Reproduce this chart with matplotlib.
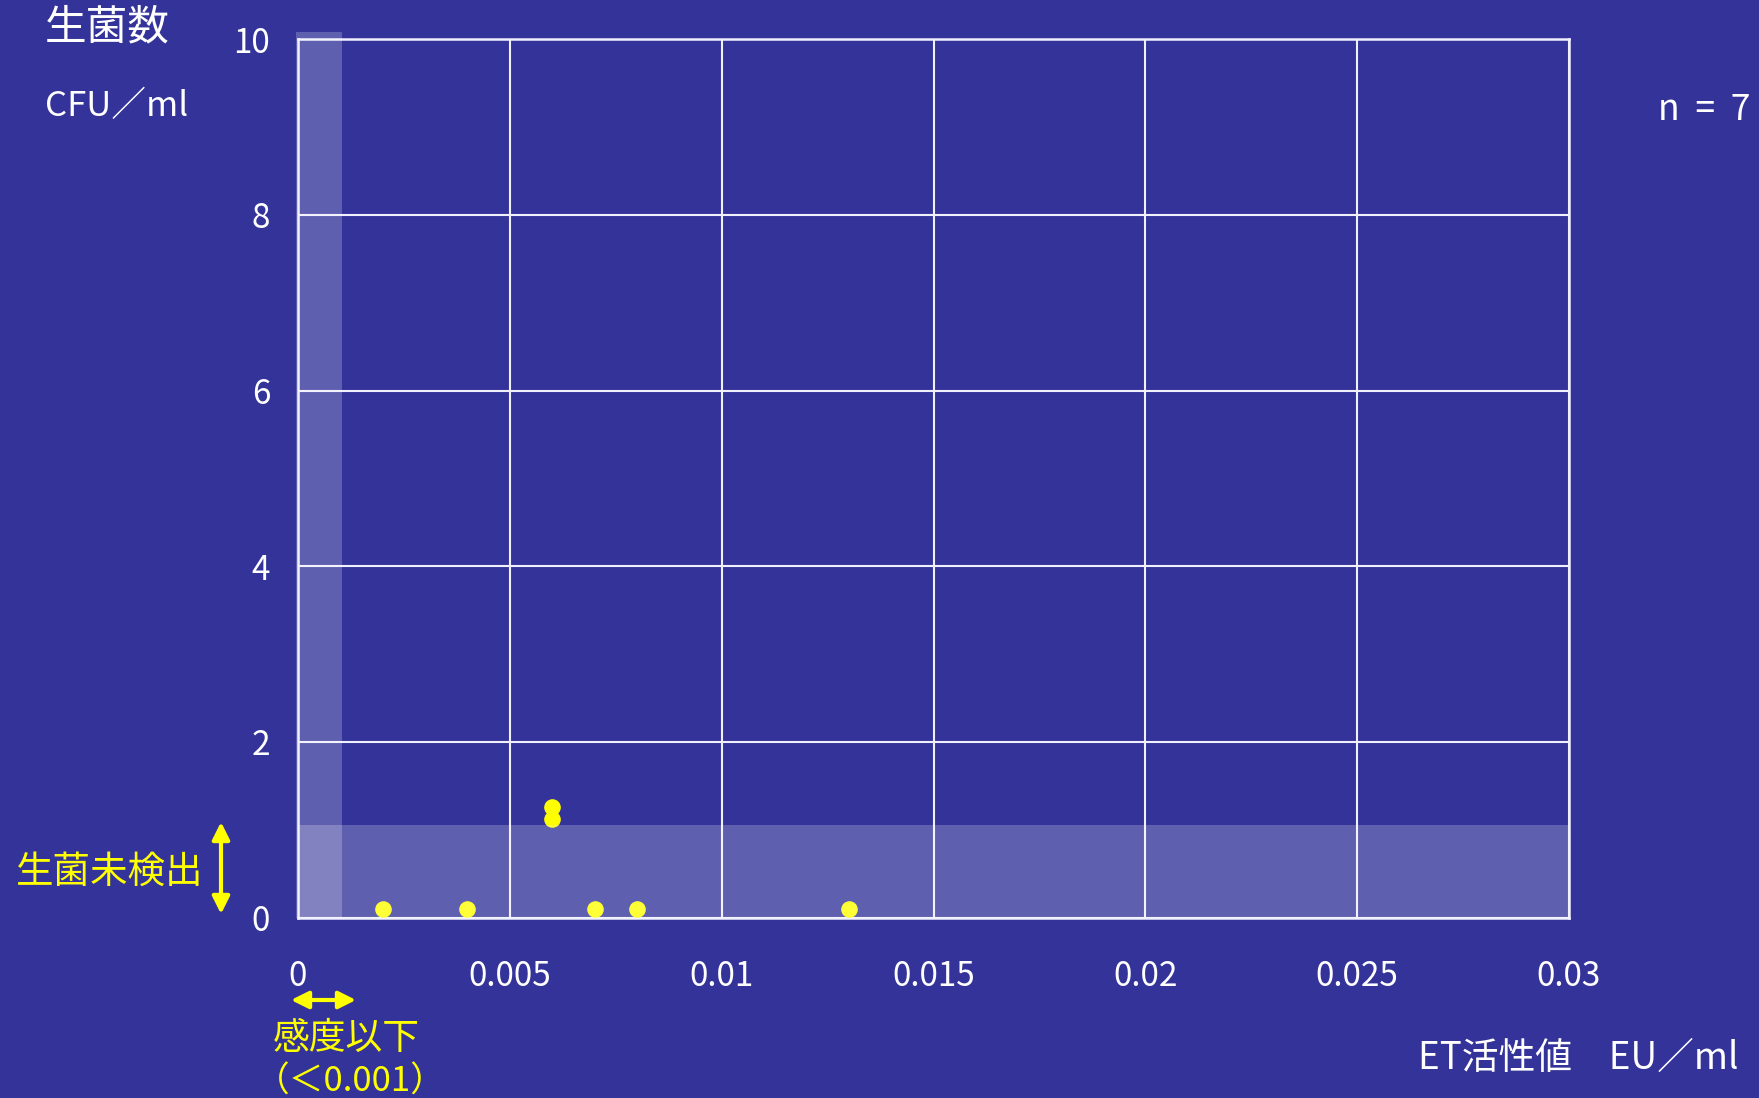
import matplotlib
matplotlib.use('Agg')
import matplotlib.pyplot as plt
import numpy as np

plt.rcParams['font.family'] = ['Noto Sans CJK JP', 'DejaVu Sans']

# data
et_value = [0.002, 0.004, 0.006, 0.006, 0.007, 0.008, 0.013]
cfu = [0.1, 0.1, 1.26, 1.12, 0.1, 0.1, 0.1]
x_ticks = [0, 0.005, 0.01, 0.015, 0.02, 0.025, 0.03]
x_labels = ['0', '0.005', '0.01', '0.015', '0.02', '0.025', '0.03']
y_ticks = [0, 2, 4, 6, 8, 10]
y_labels = ['0', '2', '4', '6', '8', '10']

bg = '#333399'
W, H = 1759, 1098

fig = plt.figure(figsize=(W / 100, H / 100), dpi=100, facecolor=bg)
ax = fig.add_axes([298 / W, 1 - 917.6 / H, 1271 / W, 878.3 / H])
ax.set_facecolor(bg)

ax.scatter(et_value, cfu, s=120, color='#FFFF00', zorder=3, clip_on=False)

# shaded regions (below detection limits)
ax.fill_between([-0.00005, 0.00105], 0, 10.08, color='white', alpha=0.22,
                lw=0, zorder=4, clip_on=False)
ax.fill_between([0, 0.03], 0, 1.06, color='white', alpha=0.22, lw=0, zorder=4)

ax.set_xlim(0, 0.03)
ax.set_ylim(0, 10)
ax.set_xticks(x_ticks)
ax.set_xticklabels(x_labels)
ax.set_yticks(y_ticks)
ax.set_yticklabels(y_labels)
ax.tick_params(length=0, labelcolor='white', labelsize=24)
ax.tick_params(axis='x', pad=30)
ax.tick_params(axis='y', pad=20)
ax.grid(True, color='#F0F0FF', lw=1.5, zorder=1)
for s in ax.spines.values():
    s.set_color('#F0F0FF')
    s.set_linewidth(1.8)


def ft(x, y, s, **kw):
    fig.text(x / W, 1 - y / H, s, **kw)


ft(45, 28, '生菌数', color='white', fontsize=30, va='center', ha='left')
ft(45, 107, 'CFU／ml', color='white', fontsize=25, va='center', ha='left')
ft(1750, 110, 'n  =  7', color='white', fontsize=25.5, va='center', ha='right')
ft(1739, 1058, 'ET活性値　EU／ml', color='white', fontsize=26.5, va='center', ha='right')
ft(16, 872, '生菌未検出', color='#FFFF00', fontsize=27, va='center', ha='left')
ft(273, 1038, '感度以下', color='#FFFF00', fontsize=26.5, va='center', ha='left')
ft(255, 1082, '（＜0.001）', color='#FFFF00', fontsize=25, va='center', ha='left')

arrow = dict(arrowstyle='<|-|>', color='#FFFF00', lw=3, mutation_scale=26,
             shrinkA=0, shrinkB=0)
fig.add_artist(matplotlib.patches.FancyArrowPatch(
    (221 / W, 1 - 822 / H), (221 / W, 1 - 914 / H),
    transform=fig.transFigure, **arrow))
fig.add_artist(matplotlib.patches.FancyArrowPatch(
    (291 / W, 1 - 1000 / H), (356 / W, 1 - 1000 / H),
    transform=fig.transFigure, **arrow))

fig.savefig('out.png', dpi=100, facecolor=bg)
